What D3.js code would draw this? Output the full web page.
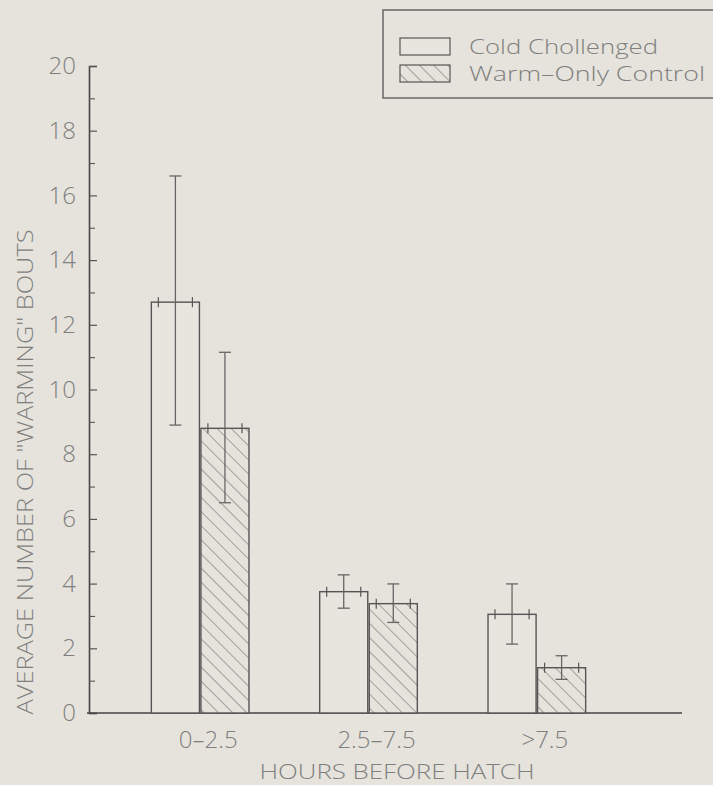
<!DOCTYPE html>
<html>
<head>
<meta charset="utf-8">
<script src="https://cdn.jsdelivr.net/npm/d3@7"></script>
<style>
  html, body { margin: 0; padding: 0; background: #e5e3db; }
  svg { display: block; }
  text { font-family: "Open Sans", "DejaVu Sans", sans-serif; font-weight: 300; fill: #7f7f7f; }
</style>
</head>
<body>
<svg id="chart" width="713" height="785"></svg>
<script>
// ---- data ----
const categories = ["0–2.5", "2.5–7.5", ">7.5"];
const seriesNames = ["Cold Chollenged", "Warm–Only Control"];
const coldMean = [12.7, 3.75, 3.05];
const coldLow  = [8.9, 3.24, 2.13];
const coldHigh = [16.6, 4.27, 3.99];
const warmMean = [8.8, 3.38, 1.40];
const warmLow  = [6.5, 2.8, 1.04];
const warmHigh = [11.15, 3.99, 1.77];
const yMajorTicks = [0, 2, 4, 6, 8, 10, 12, 14, 16, 18, 20];
const yMinorTicks = [1, 3, 5, 7, 9, 11, 13, 15, 17, 19];
const yTitle = "AVERAGE NUMBER OF \"WARMING\" BOUTS";
const xTitle = "HOURS BEFORE HATCH";

const series = [
  { key: "cold", name: seriesNames[0], mean: coldMean, low: coldLow, high: coldHigh },
  { key: "warm", name: seriesNames[1], mean: warmMean, low: warmLow, high: warmHigh }
];

const svg = d3.select("#chart");
const ink = "#555";

// hatch pattern
const defs = svg.append("defs");
const pat = defs.append("pattern")
  .attr("id", "hatch").attr("patternUnits", "userSpaceOnUse")
  .attr("width", 10).attr("height", 10)
  .attr("patternTransform", "rotate(-45)");
pat.append("rect").attr("width", 10).attr("height", 10).attr("fill", "#e5e3db");
pat.append("line").attr("x1", 0).attr("y1", 0).attr("x2", 0).attr("y2", 10)
  .attr("stroke", "#666").attr("stroke-width", 1.1);

// scales
const y = d3.scaleLinear().domain([0, 20]).range([713, 66]);
const x0 = d3.scaleBand().domain(categories).range([116, 621]).paddingInner(0.42).paddingOuter(0.21);
const x1 = d3.scaleBand().domain(series.map(s => s.key)).range([0, x0.bandwidth()]).paddingInner(0.03);

const axisX = 89;

// y axis (ticks inside)
const yAxis = d3.axisLeft(y).tickValues(yMajorTicks).tickSize(-8).tickPadding(13).tickFormat(d3.format("d"));
const gy = svg.append("g").attr("transform", `translate(${axisX},0)`).call(yAxis);
gy.select(".domain").attr("stroke", "#444").attr("stroke-width", 1.6);
gy.selectAll(".tick line").attr("stroke", "#555").attr("stroke-width", 1.2);
gy.selectAll(".tick text").attr("font-size", 24).style("font-family", "\"Open Sans\", \"DejaVu Sans\", sans-serif").attr("fill", "#7f7f7f");

const yMinor = d3.axisLeft(y).tickValues(yMinorTicks).tickSize(-6).tickFormat("");
const gym = svg.append("g").attr("transform", `translate(${axisX},0)`).call(yMinor);
gym.select(".domain").remove();
gym.selectAll(".tick line").attr("stroke", "#555").attr("stroke-width", 1.1);

// x baseline
svg.append("line").attr("x1", 87).attr("x2", 682).attr("y1", y(0)).attr("y2", y(0))
  .attr("stroke", "#444").attr("stroke-width", 1.6);

// x axis labels
const xAxis = d3.axisBottom(x0).tickSize(0).tickPadding(18);
const gx = svg.append("g").attr("transform", `translate(0,${y(0)})`).call(xAxis);
gx.select(".domain").remove();
gx.selectAll(".tick text").attr("font-size", 24).attr("dx", 8)
  .style("font-family", "\"Open Sans\", \"DejaVu Sans\", sans-serif").attr("fill", "#7f7f7f");

// bars
const groups = svg.append("g").selectAll("g").data(series).join("g");
groups.each(function(s) {
  const g = d3.select(this);
  categories.forEach((c, i) => {
    const bx = x0(c) + x1(s.key);
    const bw = x1.bandwidth();
    const top = y(s.mean[i]);
    g.append("rect")
      .attr("x", bx).attr("y", top).attr("width", bw).attr("height", y(0) - top)
      .attr("fill", s.key === "warm" ? "url(#hatch)" : "#e7e5de")
      .attr("stroke", ink).attr("stroke-width", 1.4);
    // small caps on the top edge
    [bx + 7, bx + bw - 7].forEach(tx => {
      g.append("line").attr("x1", tx).attr("x2", tx).attr("y1", top - 5).attr("y2", top + 5)
        .attr("stroke", ink).attr("stroke-width", 1.2);
    });
    // error bar
    const cx = bx + bw / 2;
    g.append("line").attr("x1", cx).attr("x2", cx).attr("y1", y(s.high[i])).attr("y2", y(s.low[i]))
      .attr("stroke", "#666").attr("stroke-width", 1.3);
    [s.high[i], s.low[i]].forEach(v => {
      g.append("line").attr("x1", cx - 6).attr("x2", cx + 6).attr("y1", y(v)).attr("y2", y(v))
        .attr("stroke", "#666").attr("stroke-width", 1.3);
    });
  });
});

// axis titles
svg.append("text")
  .attr("transform", `translate(33,${472}) rotate(-90)`)
  .attr("text-anchor", "middle")
  .attr("font-size", 22)
  .attr("textLength", 485).attr("lengthAdjust", "spacingAndGlyphs")
  .text(yTitle);

svg.append("text")
  .attr("x", 397).attr("y", 779)
  .attr("text-anchor", "middle")
  .attr("font-size", 20)
  .attr("textLength", 275).attr("lengthAdjust", "spacingAndGlyphs")
  .text(xTitle);

// legend
const leg = svg.append("g");
leg.append("rect").attr("x", 383).attr("y", 10).attr("width", 360).attr("height", 88)
  .attr("fill", "none").attr("stroke", "#555").attr("stroke-width", 1.3);
series.forEach((s, i) => {
  const ly = 38 + i * 27;
  leg.append("rect").attr("x", 400).attr("y", ly).attr("width", 50).attr("height", 17)
    .attr("fill", s.key === "warm" ? "url(#hatch)" : "#e7e5de")
    .attr("stroke", ink).attr("stroke-width", 1.2);
  leg.append("text").attr("x", 469).attr("y", ly + 16).attr("font-size", 21)
    .attr("textLength", i === 0 ? 189 : 236).attr("lengthAdjust", "spacingAndGlyphs")
    .text(s.name);
});
</script>
</body>
</html>
